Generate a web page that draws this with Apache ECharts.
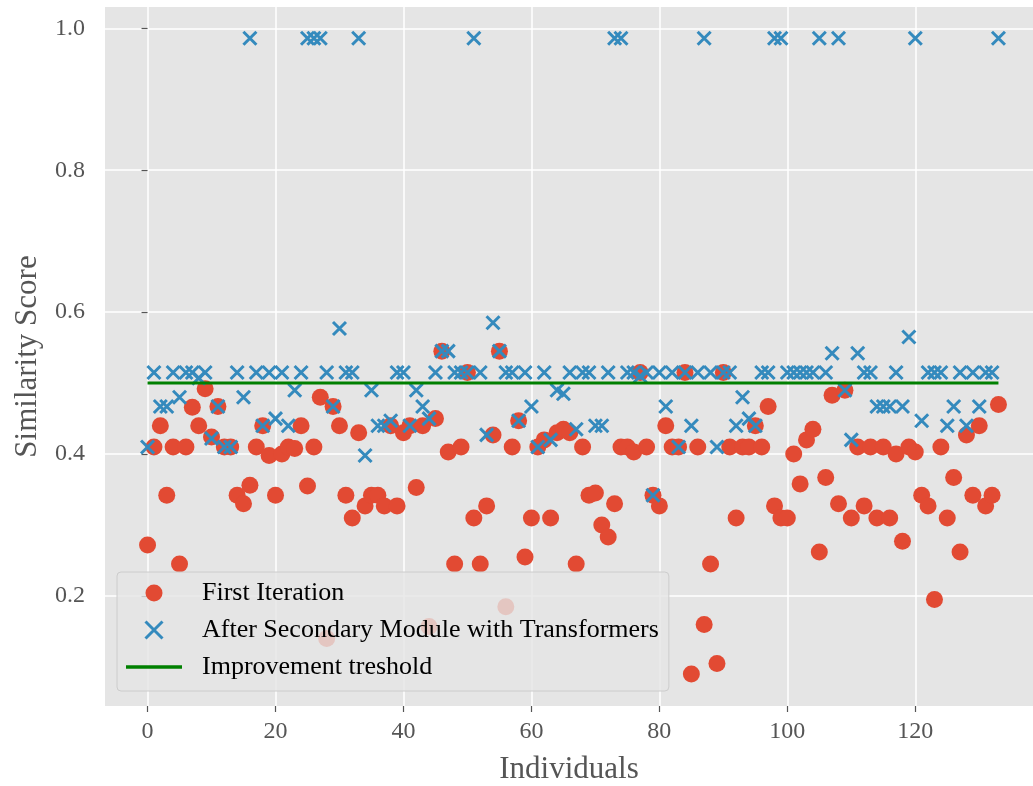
<!DOCTYPE html>
<html>
<head>
<meta charset="utf-8">
<script src="https://cdn.jsdelivr.net/npm/echarts@6/dist/echarts.min.js"></script>
<style>html,body{margin:0;padding:0;background:#fff}#c{width:1033px;height:786px}</style>
</head>
<body>
<div id="c"></div>
<script>
const individuals = Array.from({length: 134}, (_, i) => i);
const firstIteration = [
0.272,0.41,0.44,0.342,0.41,0.245,0.41,0.466,0.44,0.492,
0.424,0.467,0.41,0.41,0.342,0.33,0.356,0.41,0.44,0.398,
0.342,0.40,0.41,0.408,0.44,0.355,0.41,0.48,0.14,0.467,
0.44,0.342,0.31,0.43,0.327,0.342,0.342,0.327,0.44,0.327,
0.43,0.44,0.353,0.44,0.157,0.45,0.545,0.403,0.245,0.41,
0.515,0.31,0.245,0.327,0.427,0.545,0.185,0.41,0.447,0.255,
0.31,0.41,0.42,0.31,0.43,0.435,0.43,0.245,0.41,0.342,
0.345,0.30,0.283,0.33,0.41,0.41,0.403,0.515,0.41,0.342,
0.327,0.44,0.41,0.41,0.515,0.09,0.41,0.16,0.245,0.105,
0.515,0.41,0.31,0.41,0.41,0.44,0.41,0.467,0.327,0.31,
0.31,0.40,0.358,0.42,0.435,0.262,0.367,0.483,0.33,0.49,
0.31,0.41,0.327,0.41,0.31,0.41,0.31,0.40,0.277,0.41,
0.403,0.342,0.327,0.195,0.41,0.31,0.367,0.262,0.427,0.342,
0.44,0.327,0.342,0.47];
const afterSecondary = [
0.41,0.515,0.467,0.467,0.515,0.48,0.515,0.515,0.507,0.515,
0.422,0.467,0.41,0.41,0.515,0.48,0.986,0.515,0.44,0.515,
0.45,0.515,0.44,0.49,0.515,0.986,0.986,0.986,0.515,0.467,
0.577,0.515,0.515,0.986,0.398,0.49,0.44,0.44,0.447,0.515,
0.515,0.44,0.49,0.467,0.45,0.515,0.545,0.545,0.515,0.515,
0.515,0.986,0.515,0.427,0.585,0.545,0.515,0.515,0.447,0.515,
0.467,0.41,0.515,0.42,0.49,0.485,0.515,0.435,0.515,0.515,
0.44,0.44,0.515,0.986,0.986,0.515,0.515,0.51,0.515,0.342,
0.515,0.467,0.515,0.41,0.515,0.44,0.515,0.986,0.515,0.41,
0.515,0.515,0.44,0.48,0.45,0.44,0.515,0.515,0.986,0.986,
0.515,0.515,0.515,0.515,0.515,0.986,0.515,0.542,0.986,0.49,
0.42,0.542,0.515,0.515,0.467,0.467,0.467,0.515,0.467,0.565,
0.986,0.447,0.515,0.515,0.515,0.44,0.467,0.515,0.44,0.515,
0.467,0.515,0.515,0.986];
const thresholdX = [0, 133];
const thresholdY = [0.5, 0.5];
const xTicks = [0, 20, 40, 60, 80, 100, 120];
const yTicks = [0.2, 0.4, 0.6, 0.8, 1.0];
const seriesNames = ['First Iteration', 'After Secondary Module with Transformers', 'Improvement treshold'];

const FONT = '"Liberation Serif", "DejaVu Serif", serif';
const chart = echarts.init(document.getElementById('c'), null, {renderer: 'canvas'});
const xMark = 'path://M0,0L10,10M10,0L0,10';
const lineIcon = 'path://M0,0L56,0L56,3.5L0,3.5Z';
chart.setOption({
  backgroundColor: '#ffffff',
  animation: false,
  grid: {left: 105, right: 0, top: 7, bottom: 80, show: true, backgroundColor: '#E5E5E5', borderWidth: 0,
    containLabel: false, outerBoundsMode: 'none'},
  xAxis: {
    type: 'value', min: -6.65, max: 138.4,
    name: 'Individuals', nameLocation: 'middle', nameGap: 48,
    nameTextStyle: {fontFamily: FONT, fontSize: 31, color: '#555555'},
    axisLine: {show: false},
    axisTick: {show: true, length: 6, lineStyle: {color: '#555555', width: 1.2}, customValues: xTicks},
    axisLabel: {customValues: xTicks, fontFamily: FONT, fontSize: 24, color: '#555555', margin: 14},
    splitLine: {show: true, lineStyle: {color: '#ffffff', width: 1.5}}
  },
  yAxis: {
    type: 'value', min: 0.045, max: 1.03,
    name: 'Similarity Score', nameLocation: 'middle', nameGap: 62,
    nameTextStyle: {fontFamily: FONT, fontSize: 31, color: '#555555'},
    axisLine: {show: false},
    axisTick: {show: true, length: 6, lineStyle: {color: '#555555', width: 1.2}, customValues: yTicks},
    axisLabel: {customValues: yTicks, fontFamily: FONT, fontSize: 24, color: '#555555', margin: 20,
      formatter: v => v.toFixed(1)},
    splitLine: {show: true, lineStyle: {color: '#ffffff', width: 1.5}}
  },
  legend: {
    orient: 'vertical', left: 117, top: 572,
    padding: [8, 10, 11, 9],
    itemWidth: 56, itemHeight: 17, itemGap: 11,
    backgroundColor: 'rgba(229,229,229,0.8)', borderColor: '#cccccc', borderWidth: 1, borderRadius: 4,
    textStyle: {fontFamily: FONT, fontSize: 26, lineHeight: 26, color: '#000000', padding: [0, 0, 0, 15]},
    data: [
      {name: seriesNames[0]},
      {name: seriesNames[1], icon: xMark, itemStyle: {color: 'rgba(0,0,0,0)', borderColor: '#348ABD', borderWidth: 3}},
      {name: seriesNames[2], icon: lineIcon, itemStyle: {color: '#008000', borderWidth: 0}}
    ]
  },
  series: [
    {
      name: seriesNames[0], type: 'scatter', symbol: 'circle', symbolSize: 17,
      itemStyle: {color: '#E24A33', opacity: 1},
      data: individuals.map((x, i) => [x, firstIteration[i]]), z: 2
    },
    {
      name: seriesNames[1], type: 'scatter', symbol: xMark, symbolSize: 13,
      itemStyle: {color: 'rgba(0,0,0,0)', borderColor: '#348ABD', borderWidth: 3, opacity: 1},
      data: individuals.map((x, i) => [x, afterSecondary[i]]), z: 3
    },
    {
      name: seriesNames[2], type: 'line', symbol: 'none', showSymbol: false,
      lineStyle: {color: '#008000', width: 3},
      itemStyle: {color: '#008000'},
      data: thresholdX.map((x, i) => [x, thresholdY[i]]), z: 4
    }
  ]
});
</script>
</body>
</html>
